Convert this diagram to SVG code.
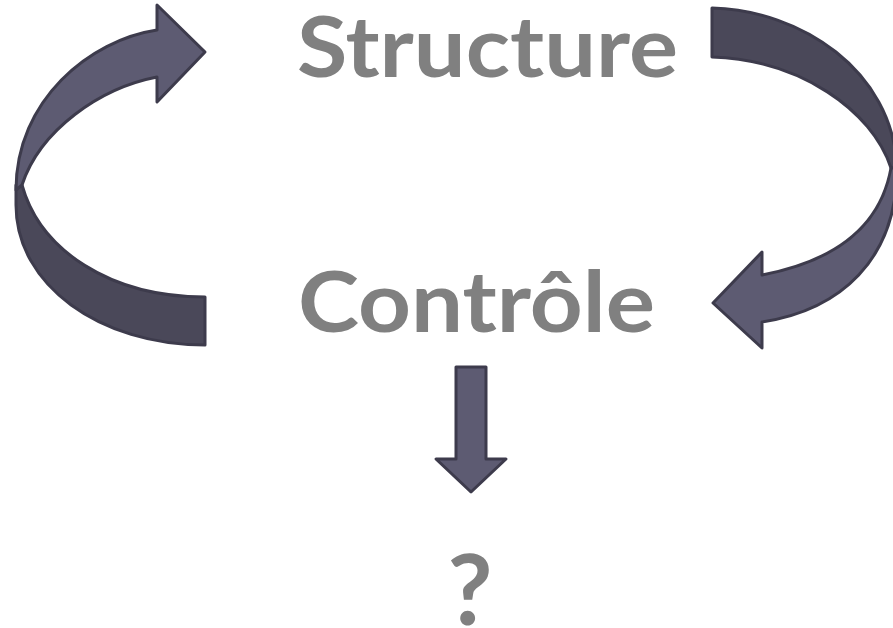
<svg xmlns="http://www.w3.org/2000/svg" width="893" height="628" viewBox="0 0 893 628">
<style>
.t{font-family:"Lato","Liberation Sans",sans-serif;font-weight:700;fill:#808080}
.lt{fill:#5d5b72;stroke:#3d3b4c;stroke-width:3;stroke-linejoin:round}
.dk{fill:#4a4859;stroke:#3d3b4c;stroke-width:3;stroke-linejoin:round}
</style>
<rect width="893" height="628" fill="#ffffff"/>
<g id="connectors">
  <g id="left-arrow">
    <path class="dk" d="M16,185 L16,205 C16,285 100,345 205,345 L205,297 C110,297 40,250 22,185 Z"/>
    <path class="lt" d="M157,77 C100,88 40,130 22,185 L16,190 C16,100 90,40 157,30 L157,5 L205,52 L157,102 Z"/>
  </g>
  <g id="right-arrow">
    <path class="dk" d="M712,8 C800,10 893,70 897,168 L891,168 C872,110 800,60 712,57 Z"/>
    <path class="lt" d="M897,168 C897,260 840,310 762,322 L762,348 L713,303 L762,252 L762,275 C830,262 880,230 891,168 Z"/>
  </g>
  <g id="down-arrow">
    <path class="lt" stroke-width="4" d="M456,367 L486,367 L486,459 L506,459 L471,492 L436,459 L456,459 Z"/>
  </g>
</g>
<g id="node-structure"><text class="t" x="297" y="77" font-size="84" textLength="381" lengthAdjust="spacingAndGlyphs">Structure</text></g>
<g id="node-controle"><text class="t" x="298" y="332" font-size="84" textLength="357" lengthAdjust="spacingAndGlyphs">Contrôle</text></g>
<g id="node-question"><text class="t" x="470" y="625" font-size="98" text-anchor="middle">?</text></g>
</svg>
